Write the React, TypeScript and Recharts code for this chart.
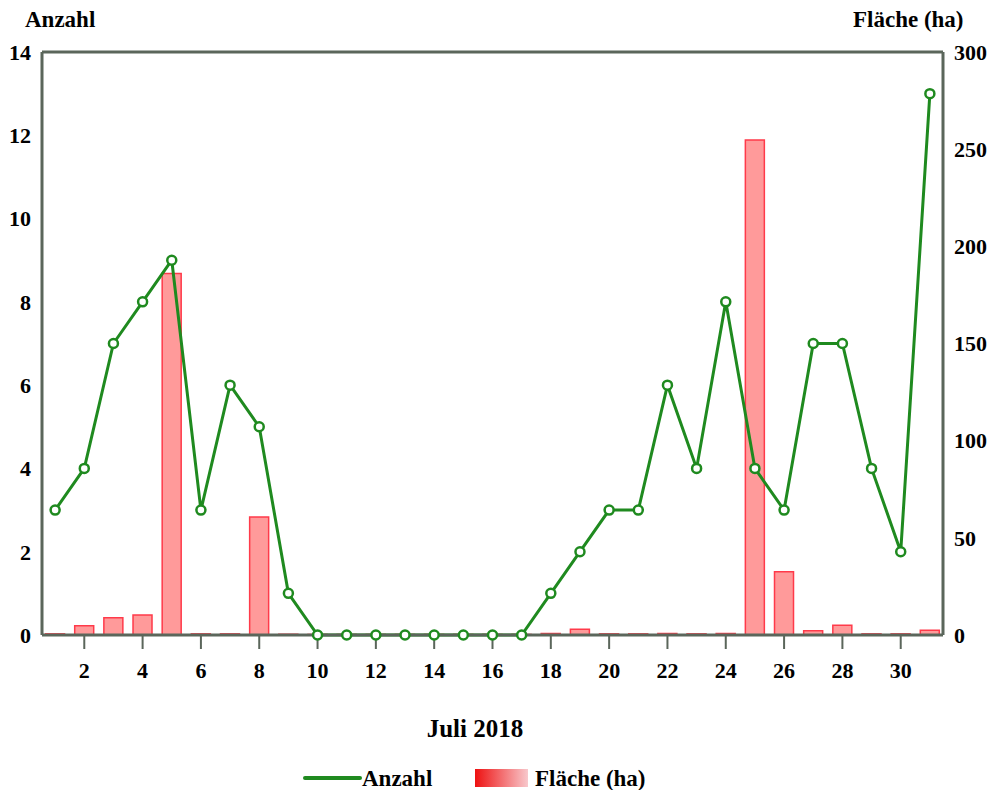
import {
  ComposedChart,
  Bar,
  Line,
  XAxis,
  YAxis,
  ReferenceLine,
} from "recharts";

const days = [
  1, 2, 3, 4, 5, 6, 7, 8, 9, 10, 11, 12, 13, 14, 15, 16, 17, 18, 19, 20, 21,
  22, 23, 24, 25, 26, 27, 28, 29, 30, 31,
];
const anzahl = [
  3, 4, 7, 8, 9, 3, 6, 5, 1, 0, 0, 0, 0, 0, 0, 0, 0, 1, 2, 3, 3, 6, 4, 8, 4, 3,
  7, 7, 4, 2, 13,
];
const flaeche = [
  0.6, 4.8, 8.9, 10.3, 186, 0.6, 0.6, 60.7, 0.4, 0.3, 0.3, 0.3, 0.3, 0.3, 0.3,
  0.3, 0.3, 0.8, 3, 0.6, 0.6, 0.8, 0.6, 0.8, 254.7, 32.6, 2.2, 5, 0.6, 0.6, 2.5,
];
const dayTicks = [2, 4, 6, 8, 10, 12, 14, 16, 18, 20, 22, 24, 26, 28, 30];
const leftTicks = [0, 2, 4, 6, 8, 10, 12, 14];
const rightTicks = [0, 50, 100, 150, 200, 250, 300];

const data = days.map((d, i) => ({
  day: d,
  anzahl: anzahl[i],
  flaeche: flaeche[i],
}));

const FONT = '"Liberation Serif", "Times New Roman", serif';
const GREEN = "#1f8a1f";
const FRAME = "#5b665b";

const tickStyle = {
  fontSize: 22,
  fontWeight: 700,
  fill: "#000",
  fontFamily: FONT,
};

const label = (left: number, top: number, size: number) => ({
  position: "absolute" as const,
  left,
  top,
  fontSize: size,
  fontWeight: 700,
  lineHeight: 1,
  whiteSpace: "nowrap" as const,
});

export default function App() {
  return (
    <div
      style={{
        position: "absolute",
        left: 0,
        top: 0,
        width: 990,
        height: 790,
        background: "#fff",
        fontFamily: FONT,
      }}
    >
      <ComposedChart
        width={990}
        height={790}
        data={data}
        margin={{ top: 52, right: 0, left: 0, bottom: 115 }}
      >
        <XAxis
          dataKey="day"
          type="number"
          domain={[0.55, 31.45]}
          ticks={dayTicks}
          interval={0}
          height={40}
          tick={tickStyle}
          tickSize={14}
          tickMargin={13}
          axisLine={{ stroke: FRAME, strokeWidth: 3 }}
          tickLine={{ stroke: FRAME, strokeWidth: 2 }}
        />
        <YAxis
          yAxisId="left"
          width={42}
          domain={[0, 14]}
          ticks={leftTicks}
          interval={0}
          tick={tickStyle}
          tickLine={false}
          tickMargin={5}
          axisLine={{ stroke: FRAME, strokeWidth: 3 }}
        />
        <YAxis
          yAxisId="right"
          orientation="right"
          width={47}
          domain={[0, 300]}
          ticks={rightTicks}
          interval={0}
          tick={{ ...tickStyle, textAnchor: "start" }}
          tickLine={false}
          tickMargin={5}
          axisLine={{ stroke: FRAME, strokeWidth: 3 }}
        />
        <ReferenceLine
          yAxisId="left"
          y={14}
          stroke={FRAME}
          strokeWidth={3}
          ifOverflow="extendDomain"
        />
        <Bar
          yAxisId="right"
          dataKey="flaeche"
          barSize={19}
          fill="#ff9a9a"
          stroke="#ff3a4a"
          strokeWidth={1.5}
          isAnimationActive={false}
        />
        <Line
          yAxisId="left"
          dataKey="anzahl"
          stroke={GREEN}
          strokeWidth={3}
          dot={{ r: 4.5, fill: "#fff", stroke: GREEN, strokeWidth: 2.5 }}
          activeDot={false}
          isAnimationActive={false}
        />
      </ComposedChart>

      <div style={label(25, 8, 23)}>Anzahl</div>
      <div style={label(853, 8, 23)}>Fläche (ha)</div>
      <div
        style={{
          ...label(0, 716, 25),
          width: 950,
          textAlign: "center",
        }}
      >
        Juli 2018
      </div>

      <div
        style={{
          position: "absolute",
          left: 303,
          top: 776,
          width: 59,
          height: 4,
          borderRadius: 2,
          background: GREEN,
        }}
      />
      <div style={label(362, 767, 23)}>Anzahl</div>
      <div
        style={{
          position: "absolute",
          left: 475,
          top: 769,
          width: 53,
          height: 18,
          background: "linear-gradient(to right, #ee1111, #f8c8cc)",
        }}
      />
      <div style={label(535, 767, 23)}>Fläche (ha)</div>
    </div>
  );
}
